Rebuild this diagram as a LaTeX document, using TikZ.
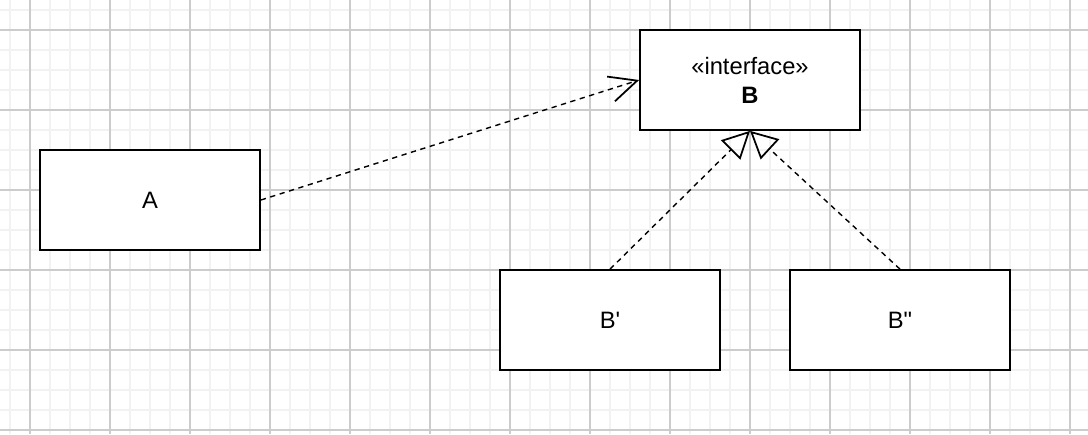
\documentclass[tikz,border=0pt]{standalone}
\usepackage{fontspec}
\usepackage{xcolor}
\usetikzlibrary{arrows.meta}
\newfontfamily\umlfont{Liberation Sans}
\colorlet{umlGridMinor}{black!5}
\colorlet{umlGridMajor}{black!20}
\colorlet{umlLine}{black}
\tikzset{
  umlbox/.style={
    rectangle, draw=umlLine, line width=1pt, fill=white,
    minimum width=4.4cm, minimum height=2cm, align=center,
    font=\umlfont\fontsize{13.5}{16.5}\selectfont, inner sep=0pt
  },
  umldep/.style={
    draw=umlLine, line width=0.8pt, dash pattern=on 3pt off 2.6pt,
    -{Straight Barb[length=15.6pt,width=14.7pt,line width=1pt]}
  },
  umlreal/.style={
    draw=umlLine, line width=0.8pt, dash pattern=on 3pt off 2.6pt,
    -{Triangle[open,length=15.5pt,width=15.5pt,line width=1pt]}
  }
}
\begin{document}
\begin{tikzpicture}[x=0.02cm,y=-0.02cm]
  \useasboundingbox (0,0) rectangle (1088,434);
  % background grid
  \foreach \gx in {10,30,...,1090}
    \draw[umlGridMinor, line width=0.6pt] (\gx,0) -- (\gx,434);
  \foreach \gy in {10,30,...,430}
    \draw[umlGridMinor, line width=0.6pt] (0,\gy) -- (1088,\gy);
  \foreach \gx in {30,110,...,1070}
    \draw[umlGridMajor, line width=0.6pt] (\gx,0) -- (\gx,434);
  \foreach \gy in {30,110,...,430}
    \draw[umlGridMajor, line width=0.6pt] (0,\gy) -- (1088,\gy);

  \node[umlbox] (clsA) at (150,200) {A};
  \node[umlbox] (ifaceB) at (750,80)
    {«interface»\\\bfseries B};
  \node[umlbox] (implB1) at (610,320) {B'};
  \node[umlbox] (implB2) at (900,320) {B"};

  \draw[umldep] (clsA.east) -- (ifaceB.west);
  \draw[umlreal] (implB1.north) -- (ifaceB.south);
  \draw[umlreal] (implB2.north) -- (ifaceB.south);
\end{tikzpicture}
\end{document}
